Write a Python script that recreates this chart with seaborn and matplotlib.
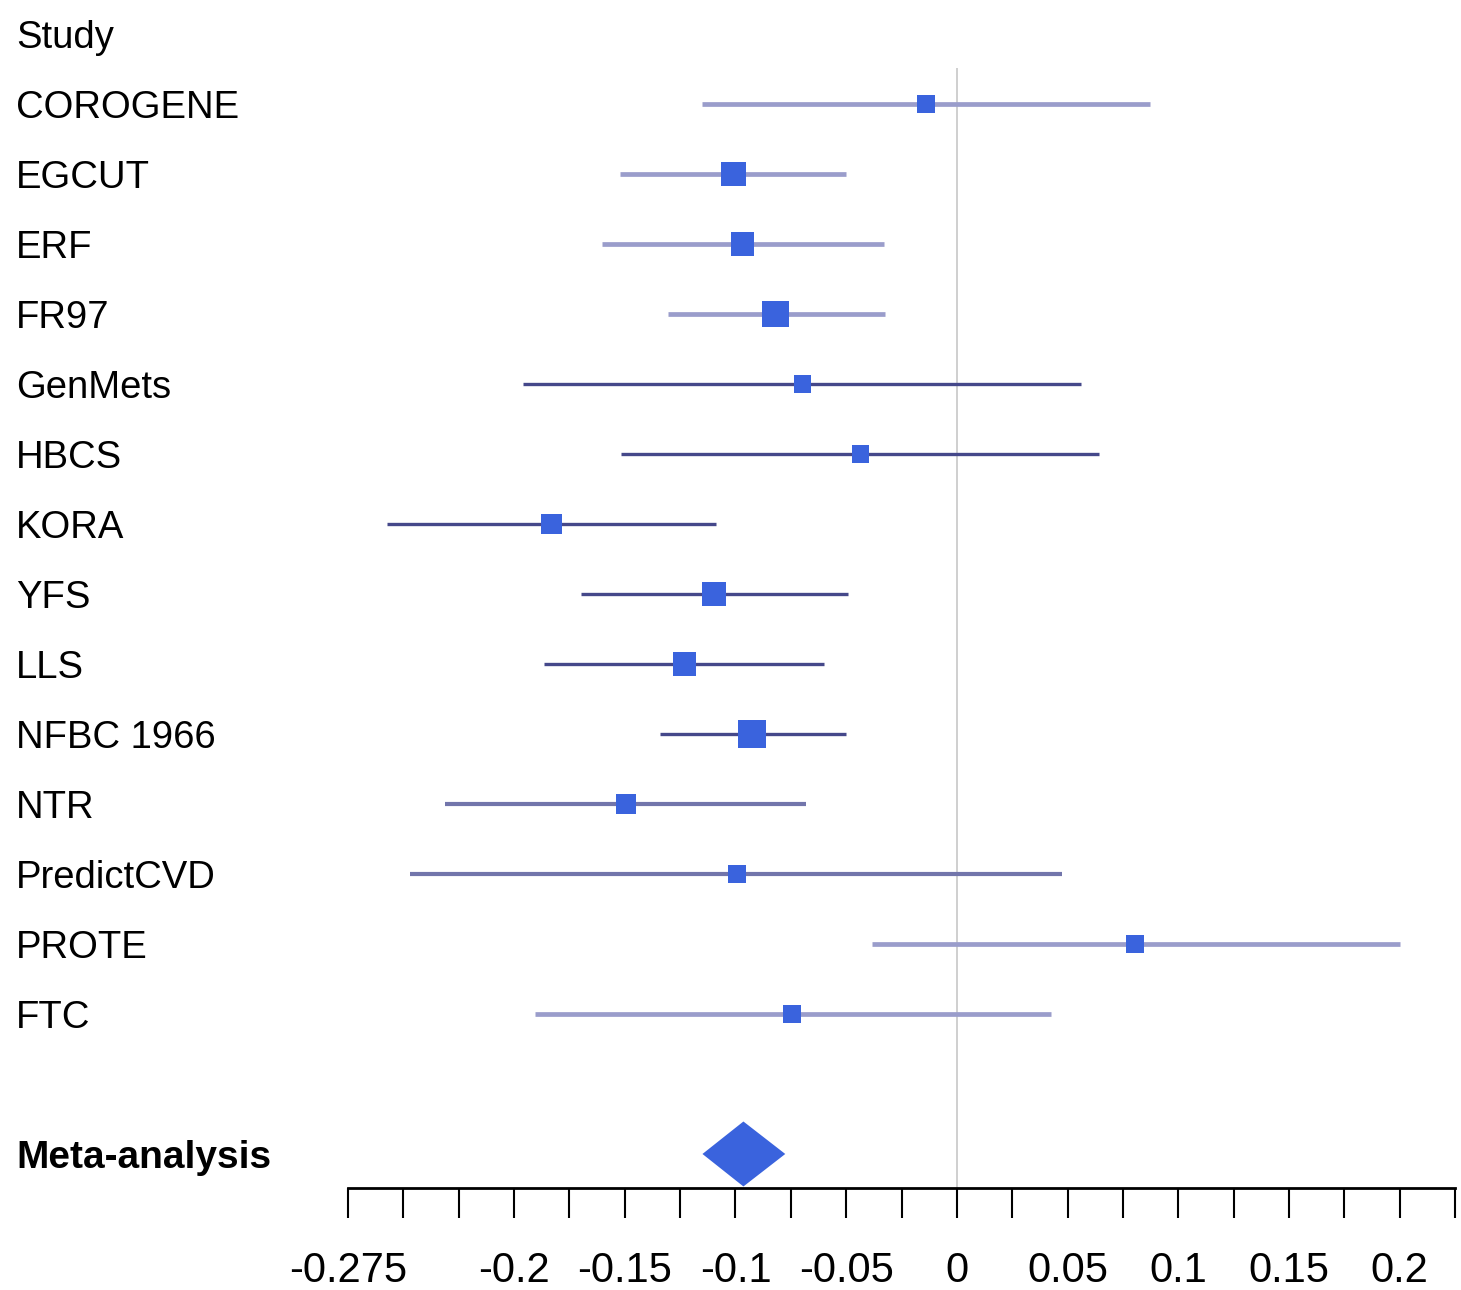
import numpy as np
import pandas as pd
import seaborn as sns
import matplotlib.pyplot as plt
import matplotlib.transforms as mtransforms

# Study estimates and confidence limits
studies = ["COROGENE", "EGCUT", "ERF", "FR97", "GenMets", "HBCS", "KORA",
           "YFS", "LLS", "NFBC 1966", "NTR", "PredictCVD", "PROTE", "FTC"]
estimate = [-0.0140, -0.1009, -0.0968, -0.0820, -0.0698, -0.0437, -0.1833,
            -0.1095, -0.1230, -0.0923, -0.1495, -0.0995, 0.0806, -0.0743]
ci_low = [-0.1153, -0.1523, -0.1604, -0.1306, -0.1959, -0.1518, -0.2572,
          -0.1698, -0.1865, -0.1342, -0.2311, -0.2468, -0.0383, -0.1905]
ci_high = [0.0874, -0.0500, -0.0329, -0.0324, 0.0563, 0.0644, -0.1090,
           -0.0491, -0.0599, -0.0500, -0.0680, 0.0477, 0.2000, 0.0423]
weight = [5.0, 9.6, 8.2, 11.2, 4.5, 4.5, 6.8, 8.9, 8.2, 12.1, 6.2, 5.0, 5.0, 5.0]

meta_label = "Meta-analysis"
meta_est, meta_low, meta_high = -0.0964, -0.1149, -0.0775

tick_values = np.round(np.arange(-0.275, 0.2251, 0.025), 3)
labelled_ticks = [-0.275, -0.2, -0.15, -0.1, -0.05, 0, 0.05, 0.1, 0.15, 0.2]

# line shading per row: 0 light/thick, 1 medium, 2 dark/thin
line_shade = [0, 0, 0, 0, 2, 2, 2, 2, 2, 2, 1, 1, 0, 0]
SHADES = {0: ("#9a9dcb", 3.4), 1: ("#7275ab", 3.0), 2: ("#45488a", 2.4)}
BOX_COLOR = "#3a63dd"

sns.set_theme(style="white")
plt.rcParams["font.family"] = ["Liberation Sans", "DejaVu Sans"]
plt.rcParams["axes.unicode_minus"] = False
plt.rcParams["text.color"] = "black"

W, H = 1461, 1290
fig = plt.figure(figsize=(W / 100, H / 100), dpi=100)
ax = fig.add_axes([348 / W, 102 / H, 1107 / W, 1188 / H])

df = pd.DataFrame({"study": studies, "est": estimate, "lo": ci_low,
                   "hi": ci_high, "weight": weight})
df["row"] = np.arange(1, len(df) + 1)
meta_row = len(df) + 2

ax.set_xlim(-0.275, 0.225)
ax.set_ylim(meta_row + 0.486, -0.486)

# zero reference line
ax.vlines(0, 0.486, meta_row + 0.486, color="#cfcfcf", lw=1.4, zorder=1)

for shade, grp in df.groupby(line_shade):
    col, lw = SHADES[shade]
    ax.hlines(grp["row"], grp["lo"], grp["hi"], color=col, lw=lw, zorder=2)

box = [(-0.5, -0.5), (0.5, -0.5), (0.5, 0.5), (-0.5, 0.5), (-0.5, -0.5)]
c = (8.05 * 0.72) ** 2
sns.scatterplot(data=df, x="est", y="row", size="weight",
                sizes=(min(weight) * c, max(weight) * c), marker=box,
                color=BOX_COLOR, edgecolor="none", linewidth=0, legend=False,
                ax=ax, zorder=3)

dh = 0.464
ax.fill([meta_low, meta_est, meta_high, meta_est],
        [meta_row, meta_row - dh, meta_row, meta_row + dh],
        color=BOX_COLOR, lw=0, zorder=3)

# study labels on the left
trans = mtransforms.blended_transform_factory(fig.transFigure, ax.transData)
x_lab = 16 / W
dy = 0.06
ax.text(x_lab, 0 + dy, "Study", transform=trans, fontsize=27.5, va="center", ha="left")
for name, r in zip(df["study"], df["row"]):
    ax.text(x_lab, r + dy, name, transform=trans, fontsize=27.5, va="center", ha="left")
ax.text(x_lab, meta_row + dy, meta_label, transform=trans, fontsize=28,
        fontweight="bold", va="center", ha="left")

ax.set_xticks(tick_values)
ax.set_xticklabels([f"{v:g}" if any(abs(v - t) < 1e-9 for t in labelled_ticks) else ""
                    for v in tick_values])
ax.tick_params(axis="x", direction="out", length=21.6, width=1.5, pad=24,
               labelsize=30, colors="black", bottom=True)
ax.set_yticks([])
ax.set_xlabel("")
ax.set_ylabel("")
for s in ["top", "right", "left"]:
    ax.spines[s].set_visible(False)
ax.spines["bottom"].set_color("black")
ax.spines["bottom"].set_linewidth(2)

fig.savefig("out.png", dpi=100, facecolor="white")
